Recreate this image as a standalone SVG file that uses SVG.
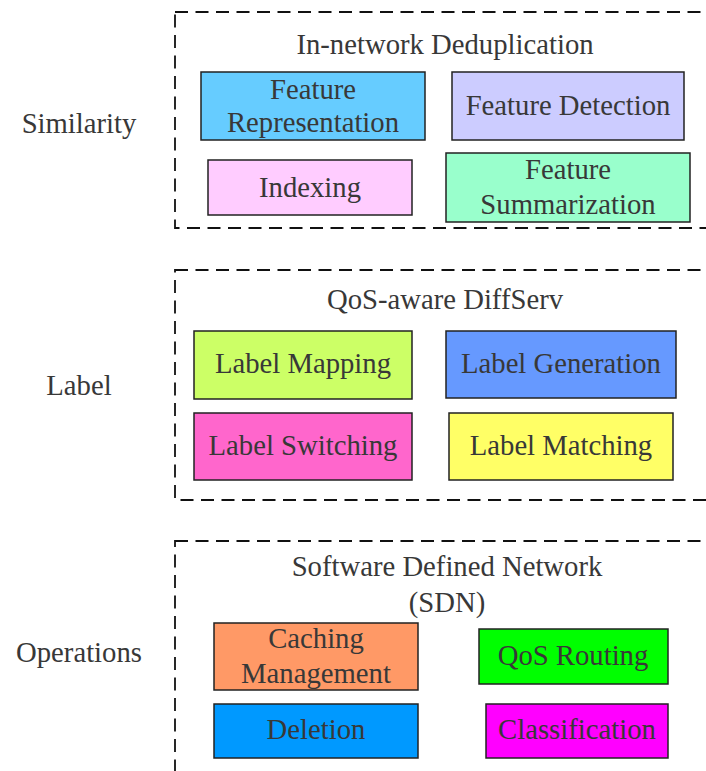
<svg xmlns="http://www.w3.org/2000/svg" width="706" height="771" viewBox="0 0 706 771">
<style>
text{font-family:"Liberation Serif","Times New Roman",serif;font-size:28.7px;fill:#383838;text-anchor:middle}
.grp{fill:none;stroke:#111;stroke-width:1.8;stroke-dasharray:13 7.5}
.n{stroke:#222;stroke-width:1.5}
</style>
<rect x="0" y="0" width="706" height="771" fill="#fff"/>
<g id="similarity">
<rect class="grp" x="175" y="12" width="540" height="216"/>
<text x="79" y="133">Similarity</text>
<text x="445" y="54">In-network Deduplication</text>
</g>
<g id="feature-representation"><rect class="n" x="201" y="72" width="224" height="68" fill="#66CCFF"/><text x="313" y="99">Feature</text><text x="313" y="132">Representation</text></g>
<g id="feature-detection"><rect class="n" x="452" y="72" width="232" height="68" fill="#CCCCFF"/><text x="568" y="115">Feature Detection</text></g>
<g id="indexing"><rect class="n" x="208" y="160" width="204" height="55" fill="#FFCCFF"/><text x="310" y="197">Indexing</text></g>
<g id="feature-summarization"><rect class="n" x="446" y="153" width="244" height="69" fill="#99FFCC"/><text x="568" y="179">Feature</text><text x="568" y="214">Summarization</text></g>
<g id="label">
<rect class="grp" x="175" y="270" width="540" height="230"/>
<text x="79" y="395">Label</text>
<text x="445" y="309">QoS-aware DiffServ</text>
</g>
<g id="label-mapping"><rect class="n" x="194" y="331" width="218" height="68" fill="#CCFF66"/><text x="303" y="373">Label Mapping</text></g>
<g id="label-generation"><rect class="n" x="446" y="331" width="230" height="67" fill="#6699FF"/><text x="561" y="373">Label Generation</text></g>
<g id="label-switching"><rect class="n" x="194" y="413" width="218" height="67" fill="#FF66CC"/><text x="303" y="455">Label Switching</text></g>
<g id="label-matching"><rect class="n" x="449" y="413" width="224" height="67" fill="#FFFF66"/><text x="561" y="455">Label Matching</text></g>
<g id="operations">
<rect class="grp" x="175" y="541" width="540" height="242"/>
<text x="79" y="662">Operations</text>
<text x="447" y="576">Software Defined Network</text>
<text x="447" y="612">(SDN)</text>
</g>
<g id="caching-management"><rect class="n" x="214" y="623" width="204" height="67" fill="#FF9966"/><text x="316" y="648">Caching</text><text x="316" y="683">Management</text></g>
<g id="qos-routing"><rect class="n" x="479" y="629" width="189" height="55" fill="#00FF00"/><text x="573" y="665">QoS Routing</text></g>
<g id="deletion"><rect class="n" x="214" y="704" width="204" height="54" fill="#0099FF"/><text x="316" y="739">Deletion</text></g>
<g id="classification"><rect class="n" x="486" y="704" width="182" height="54" fill="#FF00FF"/><text x="577" y="739">Classification</text></g>
<g id="connectors"></g>
</svg>
